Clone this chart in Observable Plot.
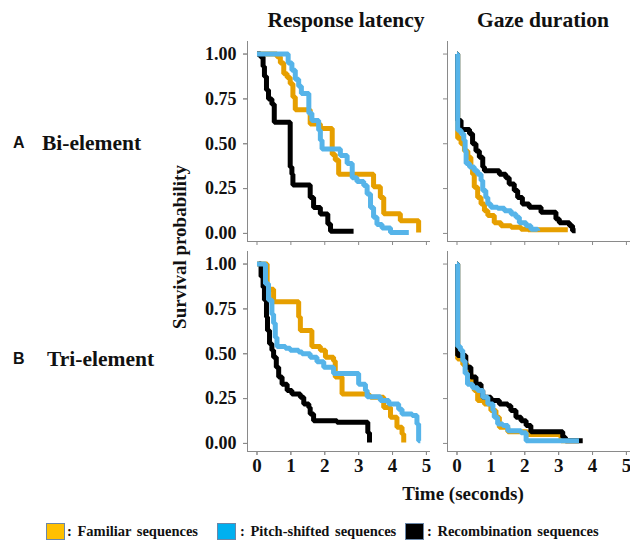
<!DOCTYPE html>
<html><head><meta charset="utf-8">
<script src="https://cdn.jsdelivr.net/npm/d3@7"></script>
<script src="https://cdn.jsdelivr.net/npm/@observablehq/plot@0.6"></script>
<style>
body{margin:0;background:#fff;}
#wrap{position:relative;width:630px;height:542px;background:#fff;}
#legend{position:relative;height:32px;font:bold 14.5px "Liberation Serif","Times New Roman",serif;color:#111;}
.sw{position:absolute;top:13px;width:17px;height:15px;border:1px solid #6b87a8;}
.lt{position:absolute;top:12px;line-height:18px;white-space:pre;word-spacing:2px;}
</style></head>
<body><div id="wrap"><div id="chart"></div><div id="legend"></div></div>
<script>
const measures = ["Response latency", "Gaze duration"];
const conditions = ["Bi-element", "Tri-element"];
const panelLetters = ["A", "B"];
const groups = ["Familiar sequences", "Pitch-shifted sequences", "Recombination sequences"];
const lineColors = ["#E69F00", "#56B4E9", "#000000"];
const legendColors = ["#FFC000", "#00B0F0", "#000000"];
const xTicks = [0, 1, 2, 3, 4, 5];
const yTicks = [0, 0.25, 0.5, 0.75, 1];

// [time (s), survival probability]
const biLatFamiliar = [[0,1],[0.59,0.985],[0.69,0.95],[0.79,0.89],[0.89,0.87],[0.98,0.835],[1.06,0.76],[1.13,0.69],[1.57,0.61],[1.87,0.585],[2.22,0.44],[2.31,0.41],[2.41,0.33],[3.44,0.26],[3.64,0.2],[3.74,0.11],[4.23,0.07],[4.77,0.005]];
const biLatPitch = [[0,1],[0.92,0.95],[1.03,0.91],[1.13,0.86],[1.23,0.82],[1.31,0.78],[1.53,0.67],[1.62,0.63],[1.82,0.575],[1.87,0.52],[1.92,0.47],[2.46,0.435],[2.66,0.39],[2.81,0.31],[2.95,0.29],[3.15,0.267],[3.25,0.22],[3.35,0.145],[3.44,0.09],[3.54,0.05],[3.69,0.03],[3.94,0.005],[4.48,0.005]];
const biLatRecomb = [[0,1],[0.1,0.985],[0.18,0.93],[0.22,0.875],[0.28,0.8],[0.34,0.75],[0.44,0.72],[0.51,0.62],[0.98,0.37],[1.03,0.33],[1.06,0.27],[1.57,0.2],[1.67,0.145],[1.87,0.108],[2.09,0.052],[2.17,0.012],[2.85,0.012]];

const biGazeFamiliar = [[0,1],[0.02,0.53],[0.12,0.5],[0.22,0.46],[0.32,0.425],[0.41,0.37],[0.46,0.33],[0.51,0.257],[0.61,0.2],[0.71,0.164],[0.81,0.127],[0.91,0.1],[1.1,0.06],[1.3,0.043],[1.6,0.034],[1.89,0.024],[2.1,0.02],[3.27,0.02]];
const biGazePitch = [[0,1],[0.02,0.575],[0.12,0.556],[0.2,0.52],[0.24,0.46],[0.27,0.39],[0.37,0.37],[0.51,0.35],[0.61,0.33],[0.71,0.295],[0.76,0.24],[0.85,0.2],[0.91,0.164],[1.0,0.146],[1.2,0.14],[1.4,0.127],[1.6,0.108],[1.74,0.09],[1.84,0.06],[2.04,0.043],[2.18,0.024],[2.38,0.015]];
const biGazeRecomb = [[0,1],[0.02,0.63],[0.12,0.58],[0.37,0.556],[0.46,0.5],[0.56,0.46],[0.66,0.425],[0.76,0.37],[0.81,0.35],[1.25,0.33],[1.44,0.31],[1.54,0.276],[1.69,0.24],[1.79,0.2],[1.93,0.164],[2.13,0.146],[2.48,0.118],[2.92,0.08],[3.02,0.06],[3.32,0.043],[3.41,0.015],[3.5,0.015]];

const triLatFamiliar = [[0,1],[0.3,0.86],[0.49,0.79],[1.23,0.705],[1.28,0.63],[1.62,0.54],[1.87,0.52],[2.02,0.48],[2.26,0.46],[2.31,0.37],[2.51,0.276],[3.3,0.267],[3.35,0.257],[3.74,0.2],[3.94,0.146],[4.13,0.09],[4.28,0.052],[4.33,0.005]];
const triLatPitch = [[0,1],[0.25,0.89],[0.34,0.8],[0.44,0.72],[0.49,0.67],[0.54,0.59],[0.59,0.54],[0.84,0.53],[0.98,0.52],[1.23,0.51],[1.33,0.5],[1.57,0.48],[1.77,0.455],[1.97,0.425],[2.26,0.39],[3.0,0.33],[3.2,0.295],[3.25,0.26],[3.64,0.24],[3.89,0.22],[4.18,0.19],[4.28,0.164],[4.58,0.155],[4.72,0.108],[4.77,0.015],[4.82,0.015]];
const triLatRecomb = [[0.05,1],[0.12,0.93],[0.18,0.87],[0.22,0.8],[0.28,0.705],[0.31,0.63],[0.37,0.556],[0.44,0.52],[0.49,0.48],[0.57,0.425],[0.64,0.37],[0.74,0.33],[0.89,0.295],[1.03,0.276],[1.28,0.257],[1.38,0.22],[1.53,0.2],[1.57,0.164],[1.67,0.127],[2.36,0.118],[3.27,0.06],[3.32,0.005]];

const triGazeFamiliar = [[0,1],[0.02,0.47],[0.17,0.44],[0.31,0.39],[0.41,0.35],[0.51,0.295],[0.61,0.24],[0.81,0.22],[1.0,0.183],[1.15,0.146],[1.25,0.09],[1.5,0.065],[2.08,0.05],[3.07,0.015],[3.6,0.015]];
const triGazePitch = [[0,1],[0.02,0.54],[0.1,0.52],[0.17,0.46],[0.24,0.39],[0.31,0.33],[0.46,0.31],[0.61,0.295],[0.76,0.257],[0.91,0.22],[1.06,0.183],[1.1,0.146],[1.2,0.108],[1.35,0.1],[1.5,0.07],[1.89,0.06],[2.04,0.015],[3.6,0.015]];
const triGazeRecomb = [[0,1],[0.02,0.49],[0.26,0.425],[0.41,0.37],[0.56,0.33],[0.71,0.295],[0.76,0.257],[1.0,0.24],[1.25,0.22],[1.5,0.21],[1.59,0.183],[1.74,0.146],[1.89,0.127],[2.04,0.1],[2.18,0.065],[3.12,0.034],[3.2,0.015],[3.71,0.015]];

// draw order: familiar, recombination, pitch-shifted
const seriesList = [
  [measures[0], conditions[0], groups[0], biLatFamiliar],
  [measures[0], conditions[0], groups[2], biLatRecomb],
  [measures[0], conditions[0], groups[1], biLatPitch],
  [measures[1], conditions[0], groups[0], biGazeFamiliar],
  [measures[1], conditions[0], groups[2], biGazeRecomb],
  [measures[1], conditions[0], groups[1], biGazePitch],
  [measures[0], conditions[1], groups[0], triLatFamiliar],
  [measures[0], conditions[1], groups[2], triLatRecomb],
  [measures[0], conditions[1], groups[1], triLatPitch],
  [measures[1], conditions[1], groups[0], triGazeFamiliar],
  [measures[1], conditions[1], groups[2], triGazeRecomb],
  [measures[1], conditions[1], groups[1], triGazePitch]
];
const rows = seriesList.flatMap(([measure, condition, group, pts]) =>
  pts.map(([t, p]) => ({measure, condition, group, t, p})));

const serif = '"Liberation Serif", "Times New Roman", serif';
const axisGray = "#8a8a8a";
const xMin = -0.28, yMin = -0.045;

const chart = Plot.plot({
  width: 630, height: 510,
  marginTop: 41, marginBottom: 59, marginLeft: 247, marginRight: 0,
  style: {background: "white", fontFamily: serif, color: "#111"},
  x: {domain: [xMin, 5.12]},
  y: {domain: [yMin, 1.07]},
  fx: {domain: measures, paddingInner: 0.085, paddingOuter: 0, round: false, axis: null},
  fy: {domain: conditions, paddingInner: 0.0476, paddingOuter: 0, round: false, axis: null},
  color: {domain: groups, range: lineColors},
  marks: [
    Plot.ruleX([xMin], {stroke: axisGray, strokeWidth: 1}),
    Plot.ruleY([yMin], {stroke: axisGray, strokeWidth: 1}),
    Plot.axisY(yTicks, {tickFormat: d3.format(".2f"), tickSize: 4, tickPadding: 7, stroke: axisGray, fill: "#111", fontSize: 18, fontWeight: "bold", fontFamily: serif, label: null}),
    Plot.axisY(yTicks, {facetAnchor: null, tickSize: 4, stroke: axisGray, fill: "none", label: null}),
    Plot.axisX(xTicks, {tickSize: 4, tickPadding: 3, stroke: axisGray, fill: "#111", fontSize: 19, fontWeight: "bold", fontFamily: serif, label: null}),
    Plot.axisX(xTicks, {facetAnchor: null, tickSize: 4, stroke: axisGray, fill: "none", label: null}),
    Plot.line(rows, {x: "t", y: "p", z: "group", stroke: "group", fx: "measure", fy: "condition",
      curve: "step-after", strokeWidth: 5, strokeLinejoin: "miter", strokeLinecap: "butt"})
  ]
});
document.getElementById("chart").appendChild(chart);

// annotations
const svg = d3.select(chart);
function addText(x, y, txt, size, opts = {}) {
  const t = svg.append("text")
    .attr("x", x).attr("y", y)
    .attr("font-family", opts.family || serif)
    .attr("font-size", size)
    .attr("font-weight", "bold")
    .attr("fill", "#111")
    .attr("text-anchor", opts.anchor || "start")
    .text(txt);
  if (opts.rotate) t.attr("transform", `rotate(${opts.rotate},${x},${y})`);
  return t;
}
addText(346, 27, measures[0], 21.5, {anchor: "middle"});
addText(543, 27, measures[1], 21.5, {anchor: "middle"});
addText(13, 148, panelLetters[0], 16, {family: '"Liberation Sans", Arial, sans-serif'});
addText(42, 150, conditions[0], 21.5);
addText(13, 364, panelLetters[1], 16, {family: '"Liberation Sans", Arial, sans-serif'});
addText(47, 366, conditions[1], 21.5);
addText(186, 247, "Survival probability", 19, {anchor: "middle", rotate: -90});
addText(463, 500, "Time (seconds)", 19, {anchor: "middle"});

// legend
const legend = document.getElementById("legend");
const boxX = [46, 217, 405];
const textX = [67, 240, 427];
groups.forEach((g, i) => {
  const b = document.createElement("div");
  b.className = "sw";
  b.style.left = boxX[i] + "px";
  b.style.background = legendColors[i];
  legend.appendChild(b);
  const s = document.createElement("div");
  s.className = "lt";
  s.style.left = textX[i] + "px";
  s.textContent = ": " + g;
  legend.appendChild(s);
});
</script>
</body></html>
